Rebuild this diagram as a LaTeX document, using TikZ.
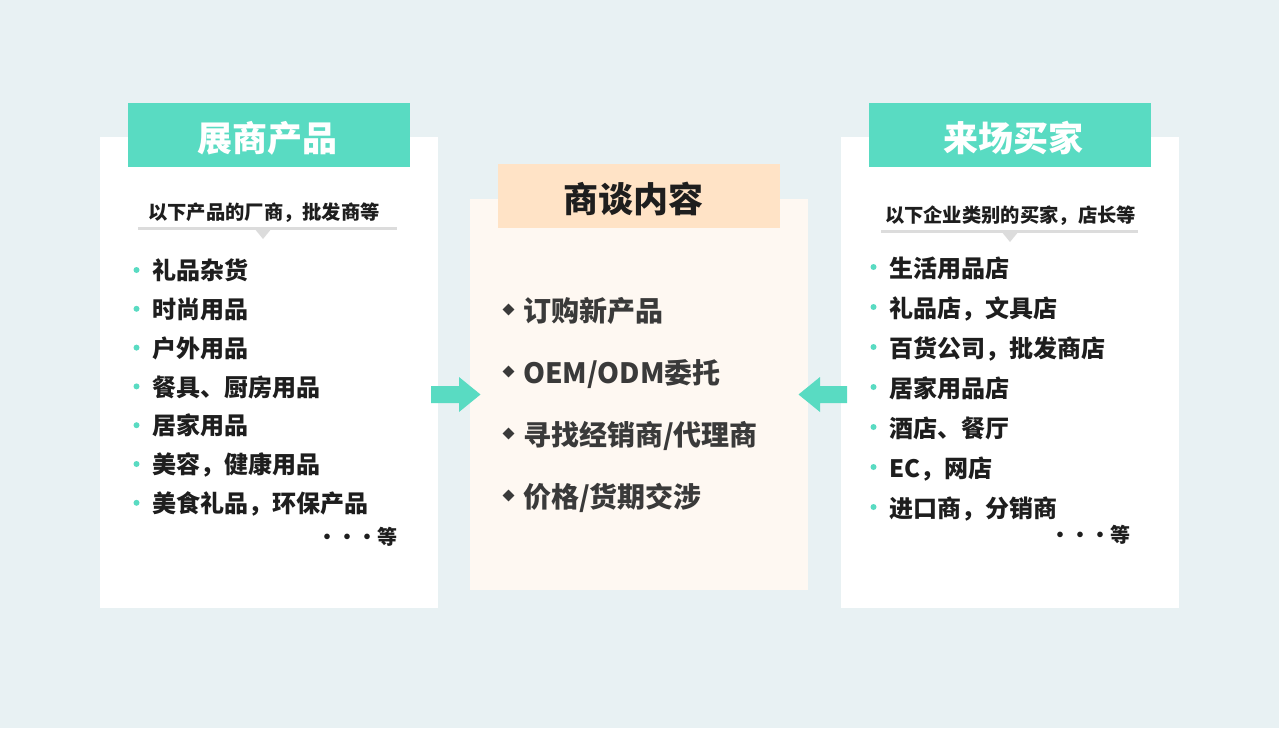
\documentclass[tikz,border=0pt]{standalone}
\usetikzlibrary{shapes.geometric}
\usepackage{fontspec}
\setmainfont{Noto Sans CJK SC}
\definecolor{bgc}{HTML}{E8F1F3}
\definecolor{tealc}{HTML}{59DBC2}
\definecolor{creamc}{HTML}{FEF8F2}
\definecolor{peachc}{HTML}{FFE3C6}
\definecolor{txtc}{HTML}{1E1E1E}
\definecolor{midtxt}{HTML}{3A3A3A}
\definecolor{linec}{HTML}{DCDCDC}
\begin{document}
\begin{tikzpicture}[x=1pt,y=-1pt,
  panel/.style={fill=white, draw=none, anchor=north west, inner sep=0pt},
  hdrbox/.style={fill=tealc, draw=none, minimum width=282pt, minimum height=64pt, inner sep=0pt},
  hdrtxt/.style={inner sep=0pt, text height=29pt, text depth=2.45pt, font=\bfseries\fontsize{35}{35}\selectfont},
  subtxt/.style={inner sep=0pt, text height=16pt, text depth=1.35pt, font=\bfseries\fontsize{19.3}{19.3}\selectfont, text=txtc},
  item/.style={inner sep=0pt, anchor=west, text height=19.9pt, text depth=1.7pt, font=\bfseries\fontsize{24}{24}\selectfont, text=txtc},
  mitem/.style={inner sep=0pt, anchor=west, text height=23.2pt, text depth=2pt, font=\bfseries\fontsize{28}{28}\selectfont, text=midtxt},
  etc/.style={inner sep=0pt, anchor=east, text height=16.6pt, text depth=1.4pt, font=\bfseries\fontsize{20}{20}\selectfont, text=txtc},
  dotb/.style={circle, fill=tealc, inner sep=0pt, minimum size=6pt},
  diam/.style={diamond, fill=midtxt, inner sep=0pt, minimum width=12pt, minimum height=12pt},
  uline/.style={draw=linec, line width=3pt},
  blockarrow/.style={fill=tealc, draw=none}
]
\fill[bgc] (0,0) rectangle (1279,728);
\useasboundingbox (0,0) rectangle (1279,728);

% ---------- left panel ----------
\node[panel, minimum width=338pt, minimum height=471pt] (lp) at (100,137) {};
\node[hdrbox] (lh) at (269,135) {};
\node[hdrtxt, text=white] (lht) at (267.5,138) {展商产品};
\node[subtxt] (lsub) at (264,212) {以下产品的厂商，批发商等};
\coordinate (lu1) at (138,228);
\coordinate (lu2) at (397,228);
\draw[uline] (lu1) -- (lu2);
\fill[linec] (254,228) -- (272,228) -- (263,239) -- cycle;
\foreach \t [count=\i from 0] in {礼品杂货,时尚用品,户外用品,餐具、厨房用品,居家用品,美容，健康用品,美食礼品，环保产品}{
  \node[dotb] (lb\i) at (136.5,{270+38.8*\i}) {};
  \node[item] (li\i) at (152,{270.5+38.8*\i}) {\t};
}
\node[etc] (letc) at (398,537) {・・・等};

% ---------- middle panel ----------
\node[panel, fill=creamc, minimum width=338pt, minimum height=391pt] (mp) at (470,199) {};
\node[fill=peachc, draw=none, minimum width=282pt, minimum height=64pt, inner sep=0pt] (mh) at (639,196) {};
\node[hdrtxt, text=txtc] (mht) at (633.5,199) {商谈内容};
\foreach \t [count=\i from 0] in {订购新产品,OEM/ODM委托,寻找经销商/代理商,价格/货期交涉}{
  \node[diam] (md\i) at (508.5,{309.5+62*\i}) {};
  \node[mitem] (mi\i) at (523,{310.5+62*\i}) {\t};
}

% ---------- right panel ----------
\node[panel, minimum width=338pt, minimum height=471pt] (rp) at (841,137) {};
\node[hdrbox] (rh) at (1010,135) {};
\node[hdrtxt, text=white] (rht) at (1013.5,138) {来场买家};
\node[subtxt] (rsub) at (1010.5,215) {以下企业类别的买家，店长等};
\coordinate (ru1) at (881,231);
\coordinate (ru2) at (1138,231);
\draw[uline] (ru1) -- (ru2);
\fill[linec] (1001,231) -- (1019,231) -- (1010,242) -- cycle;
\foreach \t [count=\i from 0] in {生活用品店,礼品店，文具店,百货公司，批发商店,居家用品店,酒店、餐厅,EC，网店,进口商，分销商}{
  \node[dotb] (rb\i) at (873.5,{267+40*\i}) {};
  \node[item] (ri\i) at (889,{268.5+40*\i}) {\t};
}
\node[etc] (retc) at (1131,535) {・・・等};

% ---------- arrows ----------
\fill[blockarrow] (431,386) -- (459,386) -- (459,377) -- (480.5,394.5) -- (459,412) -- (459,403) -- (431,403) -- cycle;
\fill[blockarrow] (847,386) -- (820,386) -- (820,377) -- (798.5,394.5) -- (820,412) -- (820,403) -- (847,403) -- cycle;
\end{tikzpicture}
\end{document}
